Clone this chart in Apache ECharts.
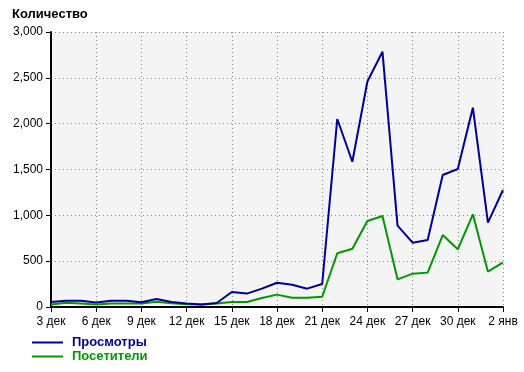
<!DOCTYPE html>
<html><head><meta charset="utf-8">
<script src="https://cdn.jsdelivr.net/npm/echarts@6/dist/echarts.min.js"></script>
<style>html,body{margin:0;padding:0;background:#fff}#c{width:524px;height:372px}</style>
</head><body><div id="c"></div>
<script>
const categories = ['3 дек','4 дек','5 дек','6 дек','7 дек','8 дек','9 дек','10 дек','11 дек','12 дек','13 дек','14 дек','15 дек','16 дек','17 дек','18 дек','19 дек','20 дек','21 дек','22 дек','23 дек','24 дек','25 дек','26 дек','27 дек','28 дек','29 дек','30 дек','31 дек','1 янв','2 янв'];
const views = [55,69,69,50,69,69,51,88,55,37,26,44,164,146,200,265,243,200,251,2051,1585,2460,2785,887,702,731,1440,1505,2174,920,1276];
const visitors = [26,47,37,26,37,37,37,58,40,29,26,37,55,55,99,135,102,102,112,586,636,938,993,302,364,375,785,629,1011,385,487];
const yTicks = [0,500,1000,1500,2000,2500,3000];
const seriesNames = ['Просмотры','Посетители'];
const colors = ['#000099','#009900'];

const chart = echarts.init(document.getElementById('c'), null, {renderer:'canvas'});
chart.setOption({
  animation:false,
  title:{text:'Количество', left:7, top:3, textStyle:{fontFamily:'Liberation Sans', fontSize:13, fontWeight:'bold', color:'#000'}},
  legend:{
    orient:'vertical', left:32, top:336, itemWidth:31, itemHeight:2, itemGap:1, icon:'rect',
    data: seriesNames.map((n,i)=>({name:n, textStyle:{color:colors[i]}})),
    textStyle:{fontFamily:'Liberation Sans', fontSize:13, fontWeight:'bold', lineHeight:13, padding:[0,0,0,4]},
    padding:0
  },
  grid:{left:51, right:21, top:32, bottom:65, show:true, backgroundColor:'#f4f4f4', borderWidth:0},
  xAxis:{
    type:'category', data:categories, boundaryGap:false,
    axisLine:{lineStyle:{color:'#000', width:2}},
    axisTick:{interval:2, length:5, lineStyle:{color:'#000'}},
    axisLabel:{interval:2, margin:9, color:'#000', fontFamily:'Liberation Sans', fontSize:12, formatter:v=>v},
    splitLine:{show:true, interval:2, lineStyle:{color:'#888', type:[1,3], width:1}}
  },
  yAxis:{
    type:'value', min:yTicks[0], max:yTicks[yTicks.length-1], interval:500,
    axisLine:{show:true, lineStyle:{color:'#000', width:2}},
    axisTick:{show:true, length:5, lineStyle:{color:'#000'}},
    axisLabel:{margin:8, color:'#000', fontFamily:'Liberation Sans', fontSize:12, formatter:v=>v.toLocaleString('en-US')},
    splitLine:{show:true, lineStyle:{color:'#888', type:[1,3], width:1}}
  },
  series:[
    {name:seriesNames[0], type:'line', data:views, showSymbol:false, symbol:'none', lineStyle:{color:colors[0], width:2}, itemStyle:{color:colors[0]}, z:3},
    {name:seriesNames[1], type:'line', data:visitors, showSymbol:false, symbol:'none', lineStyle:{color:colors[1], width:2}, itemStyle:{color:colors[1]}, z:2}
  ]
});
</script></body></html>
